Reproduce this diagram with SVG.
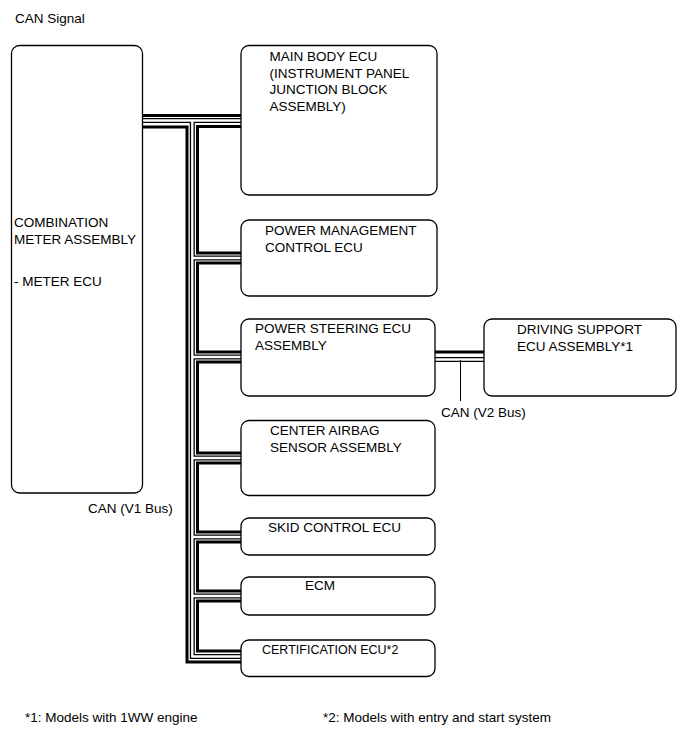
<svg xmlns="http://www.w3.org/2000/svg" width="689" height="756" viewBox="0 0 689 756">
<style>
.box{fill:#fff;stroke:#000;stroke-width:1.3}
.t{font-family:"Liberation Sans",Arial,sans-serif;font-size:13.5px;fill:#000}
.s{font-size:12.5px}
.bk{fill:none;stroke:#000;stroke-width:3}
.wo{fill:none;stroke:#000;stroke-width:5}
.wi{fill:none;stroke:#fff;stroke-width:2.4}
.ld{fill:none;stroke:#000;stroke-width:1}
</style>
<rect width="689" height="756" fill="#fff"/>
<text class="t" x="15" y="23">CAN Signal</text>
<g id="connectors">
  <path class="bk" d="M143,115.5H241"/>
  <path class="bk" d="M143,127H187V662H241"/>
  <path class="bk" d="M241,126.5H197.5V253H241"/>
  <path class="bk" d="M241,263H197.5V352H241"/>
  <path class="bk" d="M241,362H197.5V453H241"/>
  <path class="bk" d="M241,463H197.5V532H241"/>
  <path class="bk" d="M241,542H197.5V591H241"/>
  <path class="bk" d="M241,601H197.5V651H241"/>
  <path class="bk" d="M435,352H484"/>
  <path class="wo" d="M143,120.5H241M192.3,120.5V656.5H241M192.3,258H241M192.3,357H241M192.3,458H241M192.3,537H241M192.3,596H241M435,359.5H484"/>
  <path class="wi" d="M143,120.5H241M192.3,120.5V656.5H241M192.3,258H241M192.3,357H241M192.3,458H241M192.3,537H241M192.3,596H241M435,359.5H484"/>
  <path class="ld" d="M460.5,360V401"/>
</g>
<g id="combination-meter">
  <rect class="box" x="11.5" y="45.5" width="131" height="447.5" rx="8"/>
  <text class="t" x="14" y="227">COMBINATION</text>
  <text class="t" x="14" y="244">METER ASSEMBLY</text>
  <text class="t" x="14" y="286">- METER ECU</text>
</g>
<g id="main-body-ecu">
  <rect class="box" x="241" y="45.5" width="196" height="149.5" rx="8"/>
  <text class="t" x="269.5" y="61">MAIN BODY ECU</text>
  <text class="t" x="269.5" y="77.5">(INSTRUMENT PANEL</text>
  <text class="t" x="269.5" y="94">JUNCTION BLOCK</text>
  <text class="t" x="269.5" y="111">ASSEMBLY)</text>
</g>
<g id="power-management-ecu">
  <rect class="box" x="241" y="220" width="196" height="76" rx="8"/>
  <text class="t" x="265" y="235">POWER MANAGEMENT</text>
  <text class="t" x="265" y="252">CONTROL ECU</text>
</g>
<g id="power-steering-ecu">
  <rect class="box" x="241" y="319" width="194" height="77" rx="8"/>
  <text class="t" x="255" y="333">POWER STEERING ECU</text>
  <text class="t" x="255" y="350">ASSEMBLY</text>
</g>
<g id="driving-support-ecu">
  <rect class="box" x="484" y="319" width="192" height="77" rx="8"/>
  <text class="t" x="517" y="334">DRIVING SUPPORT</text>
  <text class="t" x="517" y="351">ECU ASSEMBLY*1</text>
</g>
<g id="center-airbag-sensor">
  <rect class="box" x="241" y="420.5" width="194" height="75" rx="8"/>
  <text class="t" x="270" y="435">CENTER AIRBAG</text>
  <text class="t" x="270" y="452">SENSOR ASSEMBLY</text>
</g>
<g id="skid-control-ecu">
  <rect class="box" x="241" y="518" width="194" height="37" rx="8"/>
  <text class="t" x="268" y="532">SKID CONTROL ECU</text>
</g>
<g id="ecm">
  <rect class="box" x="241" y="577" width="194" height="38" rx="8"/>
  <text class="t" x="305" y="590">ECM</text>
</g>
<g id="certification-ecu">
  <rect class="box" x="241" y="640" width="194" height="36.5" rx="8"/>
  <text class="t s" x="262" y="654">CERTIFICATION ECU*2</text>
</g>
<text class="t" x="441" y="417">CAN (V2 Bus)</text>
<text class="t" x="88" y="513">CAN (V1 Bus)</text>
<text class="t" x="25" y="722">*1: Models with 1WW engine</text>
<text class="t" x="323" y="722">*2: Models with entry and start system</text>
</svg>
